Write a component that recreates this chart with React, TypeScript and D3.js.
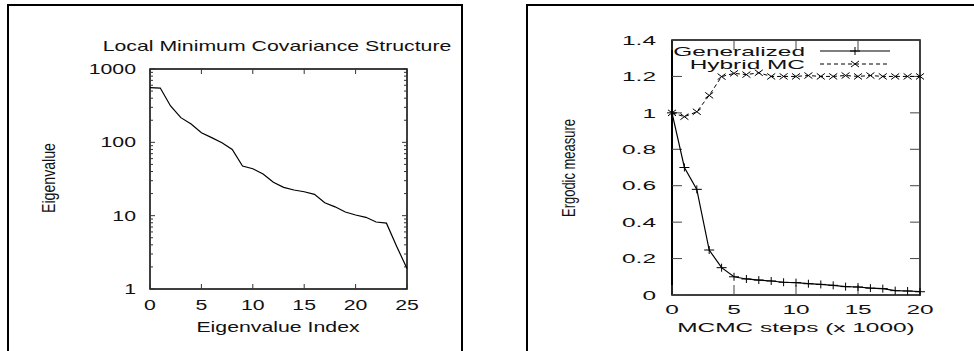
import { useRef, useEffect } from "react";
import * as d3 from "d3";

// left panel: eigenvalue spectrum
const eigenIndex = [0, 1, 2, 3, 4, 5, 6, 7, 8, 9, 10, 11, 12, 13, 14, 15, 16, 17, 18, 19, 20, 21, 22, 23, 24, 25];
const eigenValues = [556, 550, 313, 217, 178, 135, 116, 99, 80, 47.6, 43.7, 37, 28.5, 24.3, 22.4, 21.2, 19.5, 15, 13.2, 11.2, 10.2, 9.5, 8.2, 7.9, 3.8, 1.9];
const eigenXTicks = [0, 5, 10, 15, 20, 25];

// right panel: ergodic measure vs MCMC steps
const mcmcSteps = [0, 1, 2, 3, 4, 5, 6, 7, 8, 9, 10, 11, 12, 13, 14, 15, 16, 17, 18, 19, 20];
const generalized = [1.0, 0.7, 0.58, 0.247, 0.15, 0.1, 0.088, 0.082, 0.077, 0.07, 0.068, 0.062, 0.058, 0.053, 0.046, 0.044, 0.038, 0.035, 0.024, 0.022, 0.018];
const hybridMC = [1.0, 0.979, 1.006, 1.096, 1.199, 1.217, 1.21, 1.22, 1.2, 1.2, 1.2, 1.205, 1.2, 1.2, 1.205, 1.2, 1.205, 1.2, 1.2, 1.2, 1.2];
const ergXTicks = [0, 5, 10, 15, 20];
const ergYTicks = [0, 0.2, 0.4, 0.6, 0.8, 1, 1.2, 1.4];

const FONT = "'Liberation Sans', Arial, Helvetica, sans-serif";

type G = d3.Selection<SVGGElement, unknown, null, undefined>;

function label(g: G, x: number, y: number, text: string, size: number, sx: number, anchor = "middle") {
  g.append("text")
    .attr("transform", `translate(${x},${y}) scale(${sx},1)`)
    .attr("text-anchor", anchor)
    .attr("dy", "0.36em")
    .style("font-family", FONT)
    .style("font-size", `${size}px`)
    .style("fill", "#111")
    .text(text);
}

function vlabel(g: G, x: number, y: number, text: string, size: number, len: number) {
  g.append("text")
    .attr("transform", `translate(${x},${y}) rotate(-90)`)
    .attr("x", -len / 2)
    .attr("dy", "0.36em")
    .attr("textLength", len)
    .attr("lengthAdjust", "spacingAndGlyphs")
    .style("font-family", FONT)
    .style("font-size", `${size}px`)
    .style("fill", "#111")
    .text(text);
}

export default function App() {
  const svgRef = useRef<SVGSVGElement>(null);

  useEffect(() => {
    if (!svgRef.current) return;
    const svg = d3.select(svgRef.current);
    svg.selectAll("*").remove();
    const root = svg.append("g") as unknown as G;

    // panel frames
    root.append("path")
      .attr("d", "M8,352 V5 H462 V352")
      .attr("fill", "none").attr("stroke", "#000").attr("stroke-width", 2);
    root.append("path")
      .attr("d", "M527,352 V5 H976")
      .attr("fill", "none").attr("stroke", "#000").attr("stroke-width", 2);

    // ---------- left: eigenvalues ----------
    const lx = d3.scaleLinear().domain([0, 25]).range([150, 407]);
    const ly = d3.scaleLog().domain([1, 1000]).range([289, 69]);
    const left = root.append("g") as unknown as G;
    const lsx = 1.52;

    left.append("rect")
      .attr("x", lx(0)).attr("y", ly(1000))
      .attr("width", lx(25) - lx(0)).attr("height", ly(1) - ly(1000))
      .attr("fill", "none").attr("stroke", "#000").attr("stroke-width", 1.5);

    // y log ticks, mirrored
    ly.ticks().forEach((v) => {
      const major = Math.abs(Math.log10(v) - Math.round(Math.log10(v))) < 1e-9;
      const len = major ? 5 : 3;
      const y = ly(v);
      left.append("line").attr("x1", lx(0)).attr("x2", lx(0) + len).attr("y1", y).attr("y2", y)
        .attr("stroke", "#333").attr("stroke-width", 1);
      left.append("line").attr("x1", lx(25)).attr("x2", lx(25) - len).attr("y1", y).attr("y2", y)
        .attr("stroke", "#333").attr("stroke-width", 1);
      if (major) label(left, 136, y, d3.format("d")(v), 14, lsx, "end");
    });
    eigenXTicks.forEach((v) => {
      const x = lx(v);
      left.append("line").attr("x1", x).attr("x2", x).attr("y1", ly(1)).attr("y2", ly(1) - 5)
        .attr("stroke", "#333");
      left.append("line").attr("x1", x).attr("x2", x).attr("y1", ly(1000)).attr("y2", ly(1000) + 5)
        .attr("stroke", "#333");
      label(left, x, 305, String(v), 14, lsx);
    });

    const eigLine = d3.line<number>()
      .x((_, i) => lx(eigenIndex[i]))
      .y((d) => ly(d));
    left.append("path").datum(eigenValues)
      .attr("d", eigLine).attr("fill", "none").attr("stroke", "#000").attr("stroke-width", 1.2);

    label(left, 277, 46, "Local Minimum Covariance Structure", 14, lsx);
    label(left, 278, 327, "Eigenvalue Index", 14, lsx);
    vlabel(left, 49, 178, "Eigenvalue", 17.5, 70);

    // ---------- right: ergodic measure ----------
    const rx = d3.scaleLinear().domain([0, 20]).range([672, 920]);
    const ry = d3.scaleLinear().domain([0, 1.4]).range([295, 40]);
    const right = root.append("g") as unknown as G;
    const rsx = 1.88;

    right.append("rect")
      .attr("x", rx(0)).attr("y", ry(1.4))
      .attr("width", rx(20) - rx(0)).attr("height", ry(0) - ry(1.4))
      .attr("fill", "none").attr("stroke", "#000").attr("stroke-width", 1.5);
    right.append("line").attr("x1", rx(0)).attr("x2", rx(0)).attr("y1", ry(0)).attr("y2", ry(1.4))
      .attr("stroke", "#000").attr("stroke-width", 2);

    ergYTicks.forEach((v) => {
      const y = ry(v);
      right.append("line").attr("x1", rx(0)).attr("x2", rx(0) + 10).attr("y1", y).attr("y2", y)
        .attr("stroke", "#444");
      right.append("line").attr("x1", rx(20)).attr("x2", rx(20) - 10).attr("y1", y).attr("y2", y)
        .attr("stroke", "#444");
      label(right, 656, y, d3.format("~g")(v), 13, rsx, "end");
    });
    ergXTicks.forEach((v) => {
      const x = rx(v);
      right.append("line").attr("x1", x).attr("x2", x).attr("y1", ry(0)).attr("y2", ry(0) - 10)
        .attr("stroke", "#444");
      right.append("line").attr("x1", x).attr("x2", x).attr("y1", ry(1.4)).attr("y2", ry(1.4) + 10)
        .attr("stroke", "#444");
      label(right, x, 309, String(v), 13, rsx);
    });

    const genLine = d3.line<number>().x((_, i) => rx(mcmcSteps[i])).y((d) => ry(d));
    right.append("path").datum(generalized)
      .attr("d", genLine).attr("fill", "none").attr("stroke", "#000").attr("stroke-width", 1.2);
    right.append("path").datum(hybridMC)
      .attr("d", genLine).attr("fill", "none").attr("stroke", "#000").attr("stroke-width", 1)
      .attr("stroke-dasharray", "4,3");

    const plus = (x: number, y: number) =>
      right.append("path").attr("d", `M${x - 5},${y}H${x + 5}M${x},${y - 4}V${y + 4}`)
        .attr("stroke", "#000").attr("stroke-width", 1).attr("fill", "none");
    const cross = (x: number, y: number) =>
      right.append("path").attr("d", `M${x - 4},${y - 3}L${x + 4},${y + 3}M${x - 4},${y + 3}L${x + 4},${y - 3}`)
        .attr("stroke", "#000").attr("stroke-width", 1).attr("fill", "none");

    generalized.forEach((v, i) => plus(rx(mcmcSteps[i]), ry(v)));
    hybridMC.forEach((v, i) => cross(rx(mcmcSteps[i]), ry(v)));

    // legend
    label(right, 805, 51, "Generalized", 13, rsx, "end");
    right.append("line").attr("x1", 820).attr("x2", 890).attr("y1", 51).attr("y2", 51)
      .attr("stroke", "#000").attr("stroke-width", 1.2);
    plus(855, 51);
    label(right, 805, 64, "Hybrid MC", 13, rsx, "end");
    right.append("line").attr("x1", 820).attr("x2", 890).attr("y1", 64).attr("y2", 64)
      .attr("stroke", "#000").attr("stroke-width", 1).attr("stroke-dasharray", "4,3");
    cross(855, 64);

    label(right, 796, 327, "MCMC steps (x 1000)", 13, rsx);
    vlabel(right, 569, 168, "Ergodic measure", 17.5, 98);
  }, []);

  return (
    <svg
      ref={svgRef}
      width={974}
      height={351}
      style={{ position: "absolute", left: 0, top: 0, background: "#fff" }}
    />
  );
}
